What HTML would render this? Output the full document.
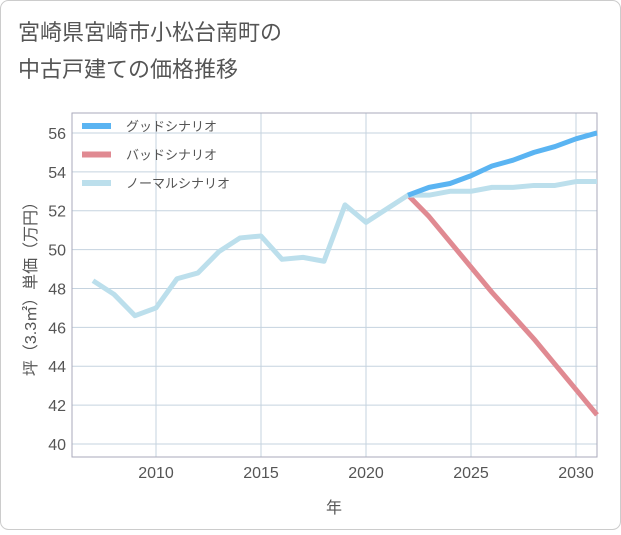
<!DOCTYPE html>
<html><head><meta charset="utf-8"><style>
body{margin:0;background:#fff;font-family:"Liberation Sans","Noto Sans CJK JP",sans-serif}
</style></head><body>
<svg width="621" height="530" xmlns="http://www.w3.org/2000/svg" style="font-family:'Liberation Sans','Noto Sans CJK JP',sans-serif">
<rect x="0.5" y="0.5" width="620" height="529" rx="8" fill="#fff" stroke="#ccc"/>
<text x="18" y="40" font-size="22" fill="#555">宮崎県宮崎市小松台南町の</text>
<text x="18" y="77" font-size="22" fill="#555">中古戸建ての価格推移</text>
<g id="grid"></g>
<rect x="72" y="113" width="525" height="344" fill="none" stroke="#aab"/>
<g id="series"></g>
<g id="legend"></g>
<text transform="translate(36,285) rotate(-90)" text-anchor="middle" font-size="16" fill="#555">坪（3.3㎡）単価（万円）</text>
<text x="334" y="513" text-anchor="middle" font-size="16" fill="#555">年</text>
</svg>
<script>
const years=[2007,2008,2009,2010,2011,2012,2013,2014,2015,2016,2017,2018,2019,2020,2021,2022,2023,2024,2025,2026,2027,2028,2029,2030,2031];
const normal=[48.4,47.7,46.6,47.0,48.5,48.8,49.9,50.6,50.7,49.5,49.6,49.4,52.3,51.4,52.1,52.8,52.8,53.0,53.0,53.2,53.2,53.3,53.3,53.5,53.5];
const goodYears=[2022,2023,2024,2025,2026,2027,2028,2029,2030,2031];
const good=[52.8,53.2,53.4,53.8,54.3,54.6,55.0,55.3,55.7,56.0];
const bad=[52.8,51.7,50.4,49.1,47.8,46.6,45.4,44.1,42.8,41.5];
const yTicks=[40,42,44,46,48,50,52,54,56];
const xTicks=[2010,2015,2020,2025,2030];
const NS="http://www.w3.org/2000/svg";
const X=y=>156+(y-2010)*21, Y=v=>444-(v-40)*19.44;
function mk(t,a,p){const e=document.createElementNS(NS,t);for(const k in a)e.setAttribute(k,a[k]);p.appendChild(e);return e;}
const grid=document.getElementById('grid');
yTicks.forEach(v=>{const l=mk('line',{x1:72,x2:597,y1:Y(v),y2:Y(v),stroke:'#c5d3df'},grid);


const t=mk('text',{x:66,y:Y(v)+6,'text-anchor':'end','font-size':16,fill:'#555'},grid);t.textContent=v;

});
xTicks.forEach(v=>{const l=mk('line',{x1:X(v),x2:X(v),y1:113,y2:457,stroke:'#c5d3df'},grid);


const t=mk('text',{x:X(v),y:478,'text-anchor':'middle','font-size':16,fill:'#555'},grid);t.textContent=v;

});
const s=document.getElementById('series');
function line(xs,vs,c,n){const p=mk('polyline',{points:xs.map((y,i)=>X(y)+','+Y(vs[i])).join(' '),fill:'none',stroke:c,'stroke-width':5,'stroke-linejoin':'round'},s);

}
line(goodYears,bad,'#e08a92','bad-scenario-line');
line(years,normal,'#bcdfec','normal-scenario-line');
line(goodYears,good,'#5ab4f2','good-scenario-line');
const lg=document.getElementById('legend');
[['グッドシナリオ','#5ab4f2'],['バッドシナリオ','#e08a92'],['ノーマルシナリオ','#bcdfec']].forEach((d,i)=>{
const yy=126+i*28.5;
const r=mk('line',{x1:82,x2:111,y1:yy,y2:yy,stroke:d[1],'stroke-width':6},lg);


const t=mk('text',{x:126,y:yy+5,'font-size':13,fill:'#555'},lg);t.textContent=d[0];

});
</script>
</body></html>
